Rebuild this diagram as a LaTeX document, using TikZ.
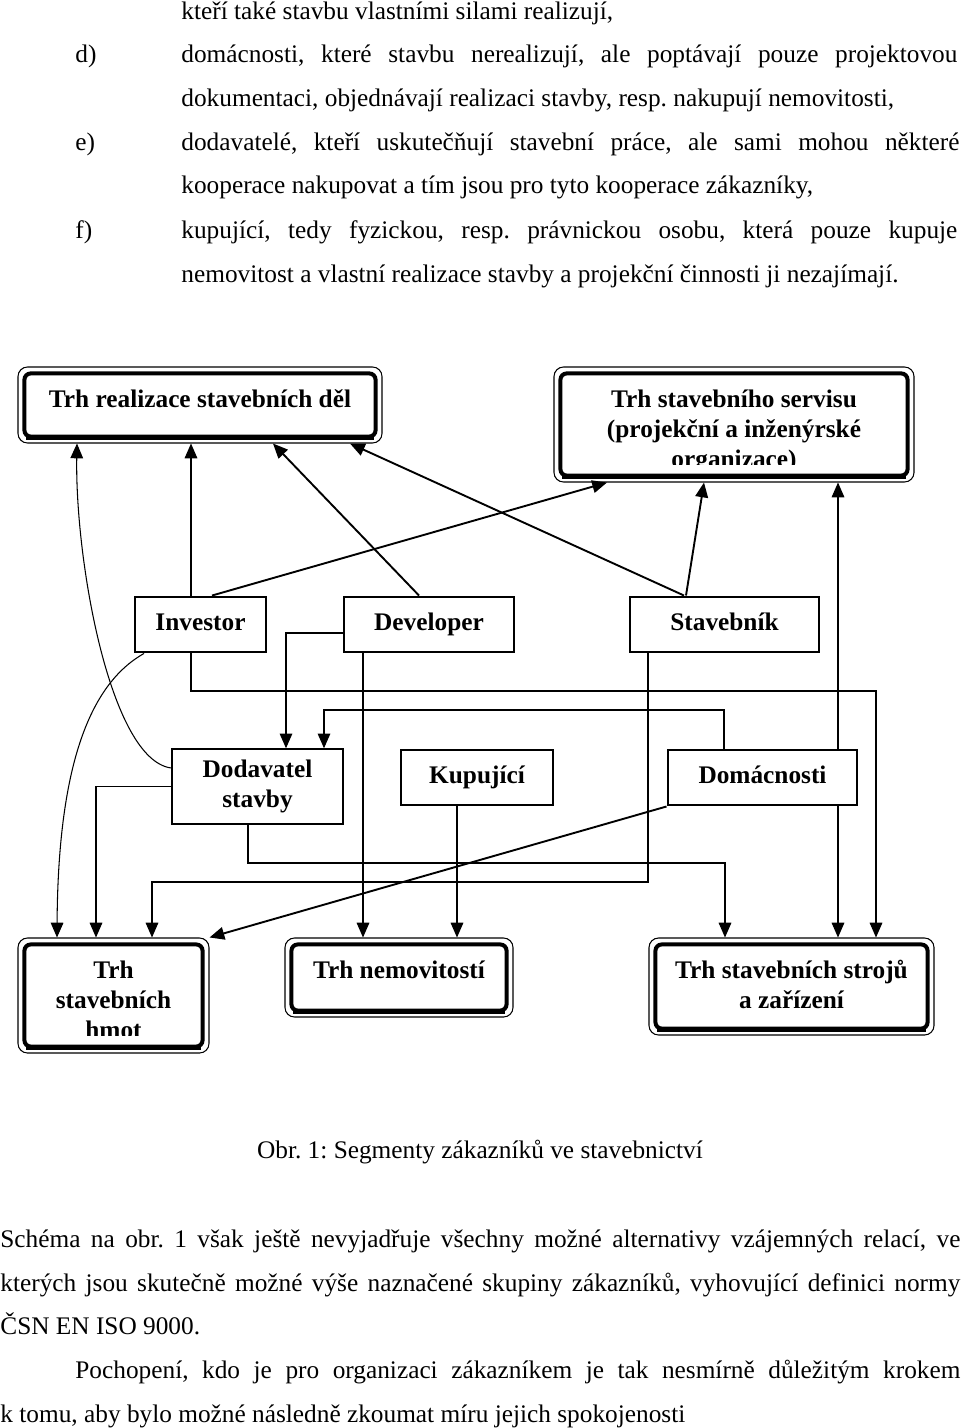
\documentclass[tikz,border=0pt]{standalone}
\usepackage{fontspec}
\setmainfont{Liberation Serif}
\usetikzlibrary{arrows.meta,fit}
\newlength\px
\setlength\px{0.474pt}
\frenchspacing

\begin{document}
\begin{tikzpicture}[x=\px,y=-\px,font=\fontsize{12}{14.2}\selectfont]
\tikzset{
  txt/.style={anchor=base west,inner sep=0pt},
  arr/.style={line width=0.5pt,-{Triangle[length=7pt,width=6pt]}},
  arrb/.style={arr,line width=0.9pt},
  box/.style={draw,line width=1.4pt,inner sep=0pt,align=center,minimum height=55*\px,font=\fontsize{12}{14.2}\selectfont\bfseries},
  actor/.style={box,text height=8.5pt,text depth=2.5pt},
  market/.style={draw,line width=0.5pt,rounded corners=4.5pt,inner sep=0pt,
    path picture={
      \clip ([yshift=8.5pt]path picture bounding box.south west) rectangle (path picture bounding box.north east);
      \node[draw=none,anchor=base,font=\fontsize{12}{14.2}\selectfont\bfseries]
        at ([yshift=-19pt]path picture bounding box.north) {\begin{tabular}[t]{@{}c@{}}#1\end{tabular}};
    }},
}
\fill[white] (0,0) rectangle (960,1428);

\node[txt] (l1) at (181,19.5) {kteří také stavbu vlastními silami realizují,};
\node[txt] (d) at (75,63) {d)};
\node[txt] (l2) at (181,63) {\makebox[776\px][s]{domácnosti, které stavbu nerealizují, ale poptávají pouze projektovou}};
\node[txt] (l3) at (181,107) {dokumentaci, objednávají realizaci stavby, resp. nakupují nemovitosti,};
\node[txt] (e) at (75,151) {e)};
\node[txt] (l4) at (181,151) {\makebox[778\px][s]{dodavatelé, kteří uskutečňují stavební práce, ale sami mohou některé}};
\node[txt] (l5) at (181,194) {kooperace nakupovat a tím jsou pro tyto kooperace zákazníky,};
\node[txt] (f) at (75,238) {f)};
\node[txt] (l6) at (181,238) {\makebox[776\px][s]{kupující, tedy fyzickou, resp. právnickou osobu, která pouze kupuje}};
\node[txt] (l7) at (181,283) {nemovitost a vlastní realizace stavby a projekční činnosti ji nezajímají.};

\node[market={Trh realizace stavebních děl},fit={(18,367) (382,443)}] (TR) {};
\node[market={Trh stavebního servisu\\(projekční a inženýrské\\organizace)},fit={(554,367) (914,482)}] (TS) {};
\node[market={Trh\\stavebních\\hmot},fit={(18,938) (209,1053)}] (TH) {};
\node[market={Trh nemovitostí},fit={(285,938) (513,1017)}] (TN) {};
\node[market={Trh stavebních strojů\\a zařízení},fit={(649,938) (934,1035)}] (TZ) {};
\foreach \m in {TR,TS,TH,TN,TZ}{
  \draw[line width=1.9pt,rounded corners=3pt] ([xshift=3.3pt,yshift=-3.3pt]\m.north west) rectangle ([xshift=-3.3pt,yshift=3.3pt]\m.south east);
  \draw[line width=1.6pt] ([xshift=4pt,yshift=2.6pt]\m.south west) -- ([xshift=-4pt,yshift=2.6pt]\m.south east);
}

\node[actor,minimum width=131*\px] (Inv) at (200.5,624.5) {Investor};
\node[actor,minimum width=170*\px] (Dev) at (429,624.5) {Developer};
\node[actor,minimum width=189*\px] (Stv) at (724.5,624.5) {Stavebník};
\node[box,line width=0.7pt,minimum width=171*\px,minimum height=75*\px] (Dod) at (257.5,786.5) {Dodavatel\\stavby};
\node[actor,minimum width=152*\px] (Kup) at (477,777.5) {Kupující};
\node[actor,minimum width=189*\px] (Dom) at (762.5,777.5) {Domácnosti};

\draw[arr] (Dod.west |- 0,768) .. controls (110,760) and (75,560) .. (77,0 |- TR.south);
\draw[arr] (191,0 |- Inv.north) -- (191,0 |- TR.south);
\draw[arrb] (419,0 |- Dev.north) -- (273,0 |- TR.south);
\draw[arrb] (684,0 |- Stv.north) -- (350,0 |- TR.south);
\draw[arrb] (212,0 |- Inv.north) -- (607,0 |- TS.south);
\draw[arrb] (686,0 |- Stv.north) -- (704,0 |- TS.south);
\draw[arr] (838,0 |- Dom.north) -- (838,0 |- TS.south);
\draw[arr] (Dev.west |- 0,633) -| (286,0 |- Dod.north);
\draw[arr] (724,0 |- Dom.north) -- (724,710) -| (324,0 |- Dod.north);
\draw[arr] (144,0 |- Inv.south) .. controls (88,685) and (58,770) .. (57,0 |- TH.north);
\draw[arr] (191,0 |- Inv.south) -- (191,691) -| (876,0 |- TZ.north);
\draw[arr] (363,0 |- Dev.south) -- (363,0 |- TN.north);
\draw[arr] (648,0 |- Stv.south) -- (648,882) -| (152,0 |- TH.north);
\draw[arr] (Dod.west) -| (96,0 |- TH.north);
\draw[arr] (248,0 |- Dod.south) -- (248,863) -| (725,0 |- TZ.north);
\draw[arr] (457,0 |- Kup.south) -- (457,0 |- TN.north);
\draw[arrb] (Dom.south west) -- (TH.north east);
\draw[arr] (838,0 |- Dom.south) -- (838,0 |- TZ.north);

\node[anchor=base,inner sep=0pt] (cap) at (480,1158) {Obr. 1: Segmenty zákazníků ve stavebnictví};
\node[txt] (p1) at (0,1247) {\makebox[960\px][s]{Schéma na obr. 1 však ještě nevyjadřuje všechny možné alternativy vzájemných relací, ve}};
\node[txt] (p2) at (0,1291) {\makebox[960\px][s]{kterých jsou skutečně možné výše naznačené skupiny zákazníků, vyhovující definici normy}};
\node[txt] (p3) at (0,1334) {ČSN EN ISO 9000.};
\node[txt] (p4) at (75,1378) {\makebox[885\px][s]{Pochopení, kdo je pro organizaci zákazníkem je tak nesmírně důležitým krokem}};
\node[txt] (p5) at (0,1422) {k tomu, aby bylo možné následně zkoumat míru jejich spokojenosti};
\end{tikzpicture}
\end{document}
